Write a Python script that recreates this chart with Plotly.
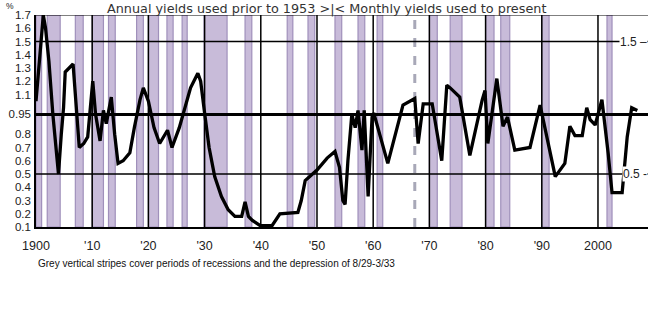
import plotly.graph_objects as go

years = [1900.0, 1900.5, 1901.3, 1901.7, 1902.3, 1903.0, 1903.5, 1904.0, 1904.5, 1904.9,
         1905.2, 1906.0, 1906.6, 1907.0, 1907.7, 1908.5, 1909.2, 1910.1, 1910.6, 1911.4,
         1912.0, 1912.5, 1913.4, 1914.0, 1914.6, 1915.5, 1916.7, 1917.5, 1918.5, 1919.1,
         1920.0, 1921.0, 1922.0, 1923.4, 1924.2, 1925.5, 1926.5, 1927.5, 1928.8, 1929.3,
         1930.0, 1930.8, 1931.8, 1933.0, 1934.2, 1935.4, 1936.6, 1937.2, 1937.8, 1938.5,
         1939.9, 1942.0, 1943.4, 1946.6, 1947.2, 1947.9, 1950.0, 1951.8, 1953.2, 1954.0,
         1954.6, 1955.0, 1955.5, 1956.2, 1956.8, 1957.3, 1958.0, 1958.4, 1959.1, 1959.8,
         1960.1, 1962.6, 1965.3, 1967.4, 1968.0, 1968.9, 1970.5, 1972.2, 1973.1, 1973.7,
         1975.4, 1977.2, 1979.4, 1979.9, 1980.4, 1982.0, 1983.1, 1983.9, 1985.2, 1987.9,
         1989.7, 1992.4, 1994.1, 1995.0, 1995.9, 1997.2, 1998.0, 1998.6, 1999.5, 2000.7,
         2001.8, 2002.5, 2004.3, 2005.2, 2006.0, 2007.0]
yields = [1.05, 1.30, 1.70, 1.60, 1.35, 0.95, 0.70, 0.50, 0.80, 1.00,
          1.27, 1.30, 1.33, 1.10, 0.70, 0.73, 0.78, 1.20, 0.95, 0.75,
          0.98, 0.88, 1.08, 0.80, 0.58, 0.60, 0.66, 0.85, 1.06, 1.15,
          1.05, 0.85, 0.73, 0.83, 0.70, 0.85, 1.00, 1.15, 1.26, 1.20,
          0.96, 0.70, 0.48, 0.33, 0.23, 0.18, 0.18, 0.29, 0.18, 0.15,
          0.11, 0.11, 0.20, 0.21, 0.30, 0.45, 0.53, 0.62, 0.67, 0.55,
          0.30, 0.27, 0.60, 0.95, 0.85, 0.98, 0.68, 0.98, 0.33, 0.93,
          0.96, 0.58, 1.02, 1.07, 0.73, 1.03, 1.03, 0.60, 1.17, 1.15,
          1.08, 0.64, 1.06, 1.13, 0.73, 1.22, 0.86, 0.93, 0.68, 0.70,
          1.02, 0.48, 0.58, 0.86, 0.79, 0.79, 1.00, 0.91, 0.87, 1.06,
          0.66, 0.36, 0.36, 0.78, 1.00, 0.98]

recession_start = [1900.0, 1902.0, 1907.0, 1910.0, 1912.9, 1917.9, 1920.0, 1923.3, 1926.0, 1929.9,
                   1937.2, 1944.7, 1948.4, 1953.2, 1957.3, 1960.7, 1970.0, 1973.7, 1980.0, 1982.7,
                   1990.0, 2001.6]
recession_end = [1901.0, 1904.3, 1908.4, 1912.0, 1914.1, 1919.1, 1921.8, 1924.4, 1926.9, 1934.0,
                 1938.4, 1945.7, 1949.6, 1954.4, 1958.5, 1961.7, 1971.4, 1975.8, 1981.5, 1984.3,
                 1991.3, 2002.5]

x_tick_vals = [1900, 1910, 1920, 1930, 1940, 1950, 1960, 1970, 1980, 1990, 2000]
x_tick_text = ["1900", "'10", "'20", "'30", "'40", "'50", "'60", "'70", "'80", "'90", "2000"]
y_tick_vals = [0.1, 0.2, 0.3, 0.4, 0.5, 0.6, 0.7, 0.8, 0.95, 1.1, 1.2, 1.3, 1.4, 1.5, 1.6, 1.7]
y_tick_text = ["0.1", "0.2", "0.3", "0.4", "0.5", "0.6", "0.7", "0.8", "0.95", "1.1", "1.2",
               "1.3", "1.4", "1.5", "1.6", "1.7"]

title_text = "Annual yields used prior to 1953 >|< Monthly yields used to present"
caption_text = "Grey vertical stripes cover periods of recessions and the depression of 8/29-3/33"
dashed_year = 1967.4

X0, X1 = 1900, 2008.9
Y0, Y1 = 0.1, 1.7
FONT = "Liberation Sans, Arial, sans-serif"
WIDE = "DejaVu Sans, Verdana, sans-serif"

shapes = []
for s, e in zip(recession_start, recession_end):
    shapes.append(dict(type="rect", xref="x", yref="y", x0=s, x1=e, y0=Y0, y1=Y1,
                       fillcolor="#c8bbd9", line=dict(width=1.2, color="#a090bb"), layer="below"))
shapes.append(dict(type="line", xref="x", yref="y", x0=dashed_year, x1=dashed_year, y0=Y0, y1=Y1,
                   line=dict(color="#a8a8b8", width=3, dash="dash"), layer="below"))
for xv in x_tick_vals[1:]:
    shapes.append(dict(type="line", xref="x", yref="y", x0=xv, x1=xv, y0=Y0, y1=Y1,
                       line=dict(color="#000000", width=1.5), layer="below"))
for yv, w in [(1.5, 1.3), (0.5, 1.3), (1.7, 1.0)]:
    shapes.append(dict(type="line", xref="x", yref="y", x0=X0, x1=X1, y0=yv, y1=yv,
                       line=dict(color="#000000", width=w), layer="below"))
shapes.append(dict(type="line", xref="x", yref="y", x0=X0, x1=X1, y0=0.95, y1=0.95,
                   line=dict(color="#000000", width=3), layer="above"))

fig = go.Figure()
fig.add_trace(go.Scatter(x=years, y=yields, mode="lines",
                         line=dict(color="#000000", width=3.3), hoverinfo="skip"))

annotations = [
    dict(text=title_text, xref="paper", yref="paper", x=0.475, y=1.0708, showarrow=False,
         font=dict(family=WIDE, size=12.8, color="#333333"), xanchor="center", yanchor="top",
         borderpad=0),
    dict(text=caption_text, xref="paper", yref="paper", x=0.0, y=-0.17, showarrow=False,
         font=dict(family=FONT, size=10, color="#111111"), xanchor="left", yanchor="middle"),
    dict(text="%", xref="paper", yref="paper", x=-0.0425, y=1.0708, showarrow=False,
         font=dict(family=FONT, size=8.5, color="#222222"), xanchor="center", yanchor="top",
         borderpad=0),
    dict(text="1.5 \u2013", xref="x", yref="y", x=X1, y=1.5, showarrow=False, bgcolor="white",
         font=dict(family=FONT, size=12, color="#222222"), xanchor="right", yanchor="middle", borderpad=0),
    dict(text="0.5 -", xref="x", yref="y", x=X1, y=0.5, showarrow=False, bgcolor="white",
         font=dict(family=FONT, size=12, color="#222222"), xanchor="right", yanchor="middle", borderpad=0),
]

fig.update_layout(
    width=659, height=333,
    margin=dict(l=36, r=11, t=15, b=106),
    paper_bgcolor="white", plot_bgcolor="white",
    showlegend=False,
    shapes=shapes, annotations=annotations,
    xaxis=dict(range=[X0, X1], tickvals=x_tick_vals, ticktext=x_tick_text, showgrid=False,
               zeroline=False, showline=True, linecolor="#000000", linewidth=1.5,
               ticks="outside", ticklen=6, tickcolor="rgba(0,0,0,0)", automargin=False,
               tickfont=dict(family=FONT, size=12.5, color="#222222")),
    yaxis=dict(range=[Y0, Y1], tickvals=y_tick_vals, ticktext=y_tick_text, showgrid=False,
               zeroline=False, showline=True, linecolor="#000000", linewidth=1.5,
               ticks="outside", ticklen=1, tickcolor="rgba(0,0,0,0)", automargin=False,
               tickfont=dict(family=FONT, size=11.5, color="#222222")),
)

fig.write_html("out.html")
